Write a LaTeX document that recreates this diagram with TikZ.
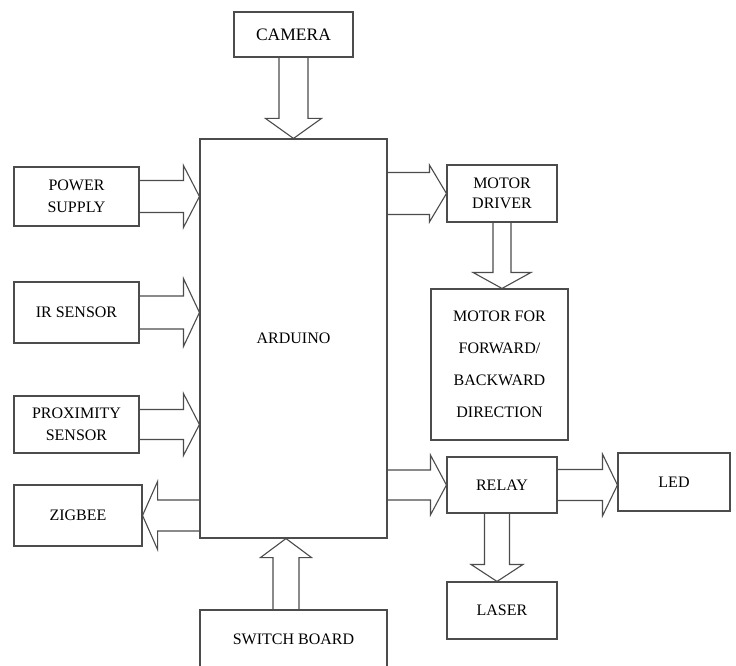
\documentclass[tikz,border=0pt]{standalone}
\usepackage{fontspec}
\setmainfont{Liberation Serif}
\usetikzlibrary{calc}
\tikzset{
  box/.style={draw=black!70, line width=1.1pt, rectangle, inner sep=0pt, align=center,
    text=black, font=\fontsize{16}{22}\selectfont},
  conn/.style={draw=black!70, line width=1.1pt, line join=miter},
}
% block arrow: start, tip, shaft half width, head half width, head length
\newcommand\barrow[5]{%
  \coordinate (hb) at ($(#2)!#5!(#1)$);
  \draw[conn] ($(#1)!#3!90:(#2)$) -- ($(hb)!#3!-90:(#1)$) -- ($(hb)!#4!-90:(#1)$)
    -- (#2) -- ($(hb)!#4!90:(#1)$) -- ($(hb)!#3!90:(#1)$) -- ($(#1)!#3!-90:(#2)$);
}
\begin{document}
\begin{tikzpicture}[x=1pt,y=-1pt]
\useasboundingbox (0,0) rectangle (736,666);
\fill[white] (0,0) rectangle (736,666);

\node[box, minimum width=119pt, minimum height=45pt, font=\fontsize{17.5}{22}\selectfont] (cam) at (293.5,34.5) {CAMERA};
\node[box, minimum width=187pt, minimum height=399pt] (ard) at (293.5,338.5) {ARDUINO};
\node[box, minimum width=125pt, minimum height=59pt] (ps) at (76.5,196.5) {POWER\\SUPPLY};
\node[box, minimum width=125pt, minimum height=61pt] (ir) at (76.5,312.5) {IR SENSOR};
\node[box, minimum width=125pt, minimum height=57pt] (prox) at (76.5,424.5) {PROXIMITY\\SENSOR};
\node[box, minimum width=128pt, minimum height=61pt] (zig) at (78,515.5) {ZIGBEE};
\node[box, minimum width=110pt, minimum height=57pt, font=\fontsize{16}{20}\selectfont] (md) at (502,193.5) {MOTOR\\DRIVER};
\node[box, minimum width=137pt, minimum height=151pt, font=\fontsize{16}{32}\selectfont] (mf) at (499.5,364.5) {MOTOR FOR\\FORWARD/\\BACKWARD\\DIRECTION};
\node[box, minimum width=110pt, minimum height=56pt] (relay) at (502,485) {RELAY};
\node[box, minimum width=112pt, minimum height=58pt] (led) at (674,482) {LED};
\node[box, minimum width=110pt, minimum height=57pt] (laser) at (502,610.5) {LASER};
\node[box, minimum width=187pt, minimum height=58pt] (sw) at (293.5,639) {SWITCH BOARD};

% connectors
\coordinate (camS) at (cam.south);
\coordinate (ardN) at (ard.north);
\barrow{camS}{ardN}{14.5pt}{28pt}{20pt}

\coordinate (psE) at (ps.east);
\coordinate (psT) at (ard.west |- ps.east);
\barrow{psE}{psT}{16pt}{31pt}{16pt}

\coordinate (irE) at (ir.east);
\coordinate (irT) at (ard.west |- ir.east);
\barrow{irE}{irT}{16.5pt}{34pt}{16pt}

\coordinate (prE) at (prox.east);
\coordinate (prT) at (ard.west |- prox.east);
\barrow{prE}{prT}{15pt}{31pt}{16pt}

\coordinate (zgS) at (ard.west |- zig.east);
\coordinate (zgT) at (zig.east);
\barrow{zgS}{zgT}{15.5pt}{34pt}{15pt}

\coordinate (mdS) at (ard.east |- md.west);
\coordinate (mdT) at (md.west);
\barrow{mdS}{mdT}{21pt}{28.5pt}{17pt}

\coordinate (mfS) at (md.south);
\coordinate (mfT) at (md.south |- mf.north);
\barrow{mfS}{mfT}{9pt}{29pt}{16pt}

\coordinate (rlS) at (ard.east |- relay.west);
\coordinate (rlT) at (relay.west);
\barrow{rlS}{rlT}{15pt}{30pt}{16pt}

\coordinate (ldS) at (relay.east);
\coordinate (ldT) at (led.west |- relay.east);
\barrow{ldS}{ldT}{15.5pt}{31pt}{15pt}

\coordinate (lsS) at ([xshift=-5pt]relay.south);
\coordinate (lsT) at (lsS |- laser.north);
\barrow{lsS}{lsT}{12.5pt}{26pt}{17pt}

\coordinate (swS) at ([xshift=-7.5pt]sw.north);
\coordinate (swT) at (swS |- ard.south);
\barrow{swS}{swT}{13pt}{25.5pt}{19pt}
\end{tikzpicture}
\end{document}
